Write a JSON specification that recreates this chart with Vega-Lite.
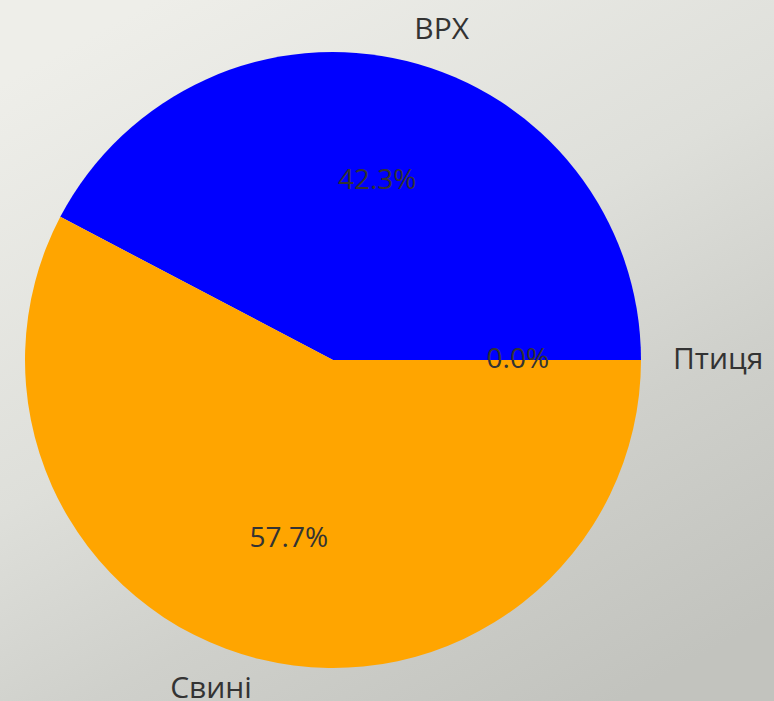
{
  "$schema": "https://vega.github.io/schema/vega-lite/v6.json",
  "width": 774,
  "height": 701,
  "autosize": {"type": "none"},
  "padding": 0,
  "background": "#dcdcd8",
  "config": {
    "view": {"stroke": null},
    "text": {"font": "Open Sans"}
  },
  "data": {
    "values": [
      {"animal": "ВРХ", "share": 42.3, "rank": 1, "pct": "42.3%"},
      {"animal": "Птиця", "share": 0.0, "rank": 2, "pct": "0.0%"},
      {"animal": "Свині", "share": 57.7, "rank": 3, "pct": "57.7%"}
    ]
  },
  "layer": [
    {
      "mark": {
        "type": "rect",
        "color": {
          "gradient": "linear",
          "x1": 0.2, "y1": 0, "x2": 0.8, "y2": 1,
          "stops": [
            {"offset": 0, "color": "#eeeee9"},
            {"offset": 0.45, "color": "#dedfda"},
            {"offset": 0.7, "color": "#cfd0cb"},
            {"offset": 1, "color": "#c2c3be"}
          ]
        }
      },
      "encoding": {}
    },
    {
      "mark": {"type": "arc", "outerRadius": 308, "xOffset": -54, "yOffset": 9.5},
      "encoding": {
        "theta": {"field": "share", "type": "quantitative", "stack": true, "scale": {"range": [-1.0873, 5.1959]}},
        "order": {"field": "rank", "type": "quantitative"},
        "color": {
          "field": "animal", "type": "nominal",
          "scale": {"domain": ["ВРХ", "Птиця", "Свині"], "range": ["#0000ff", "#008000", "#ffa500"]},
          "legend": null
        }
      }
    },
    {
      "mark": {"type": "text", "radius": 184.8, "xOffset": -54, "yOffset": 9.5, "fontSize": 28, "color": "#333333", "align": "center", "baseline": "middle"},
      "encoding": {
        "theta": {"field": "share", "type": "quantitative", "stack": true},
        "order": {"field": "rank", "type": "quantitative"},
        "text": {"field": "pct", "type": "nominal"}
      }
    },
    {
      "mark": {"type": "text", "radius": 340, "xOffset": -54, "yOffset": 9.5, "fontSize": 30, "color": "#333333", "align": "left", "baseline": "middle"},
      "encoding": {
        "theta": {"field": "share", "type": "quantitative", "stack": true},
        "order": {"field": "rank", "type": "quantitative"},
        "text": {"condition": {"test": "datum.animal !== 'Свині'", "field": "animal"}, "value": ""}
      }
    },
    {
      "mark": {"type": "text", "radius": 338.8, "xOffset": -54, "yOffset": 9.5, "fontSize": 30, "color": "#333333", "align": "right", "baseline": "middle"},
      "encoding": {
        "theta": {"field": "share", "type": "quantitative", "stack": true},
        "order": {"field": "rank", "type": "quantitative"},
        "text": {"condition": {"test": "datum.animal === 'Свині'", "field": "animal"}, "value": ""}
      }
    }
  ]
}
